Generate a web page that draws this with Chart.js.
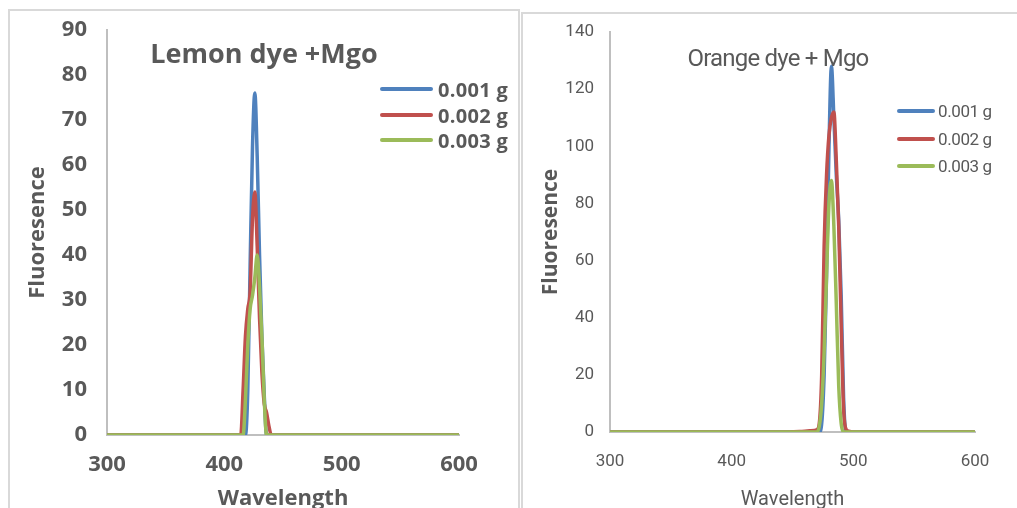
<!DOCTYPE html>
<html>
<head>
<meta charset="utf-8">
<script src="https://cdn.jsdelivr.net/npm/chart.js"></script>
<style>
  html, body { margin: 0; padding: 0; background: #fff; overflow: hidden; width: 1017px; height: 508px; }
  .frame { position: absolute; background: #fff; box-sizing: border-box; }
  #leftFrame { left: 8px; top: 9px; width: 512px; height: 520px; border: 2px solid #d9d9d9; }
  #rightFrame { left: 521px; top: 12px; width: 520px; height: 520px; border: 2px solid #d9d9d9; }
  canvas { position: absolute; left: 0; top: 0; }
  .title { position: absolute; color: #595959; white-space: nowrap; transform: translate(-50%, -50%); }
  #leftTitle { left: 254px; top: 41px; font: bold 27px "Open Sans", sans-serif; }
  #rightTitle { left: 255px; top: 44px; font: 24px Roboto, sans-serif; letter-spacing: -0.8px; }
  .legend { position: absolute; color: #595959; white-space: nowrap; }
  .legend .row { position: absolute; left: 0; height: 0; }
  .legend .swatch { position: absolute; left: 0; top: -2px; height: 4px; border-radius: 2px; }
  .legend .label { position: absolute; top: 0; transform: translateY(-50%); }
  #leftLegend { left: 370px; top: 78px; font: bold 20px "Open Sans", sans-serif; letter-spacing: 0.3px; }
  #rightLegend { left: 374px; top: 97px; font: 17px Roboto, sans-serif; letter-spacing: -0.4px; }
</style>
</head>
<body>
<div class="frame" id="leftFrame">
  <canvas id="lemon-chart" width="508" height="501"></canvas>
  <div class="title" id="leftTitle">Lemon dye +Mgo</div>
  <div class="legend" id="leftLegend"></div>
</div>
<div class="frame" id="rightFrame">
  <canvas id="orange-chart" width="494" height="498"></canvas>
  <div class="title" id="rightTitle">Orange dye + Mgo</div>
  <div class="legend" id="rightLegend"></div>
</div>
<script>
const seriesLabels = ['0.001 g', '0.002 g', '0.003 g'];
const seriesColors = ['#4F81BD', '#C0504D', '#9BBB59'];

// Lemon dye + MgO
const lemonWavelengths = [300, 410, 414, 416, 418, 420, 422, 424, 426, 428, 430, 432, 434, 436, 438, 440, 444, 600];
const lemonBlue  = [0, 0, 0, 0, 0, 10, 38, 64, 76, 62, 40, 22, 9, 0, 0, 0, 0, 0];
const lemonRed   = [0, 0, 0, 10, 22, 28, 32, 48, 54, 42, 26, 14, 7, 5, 2, 0, 0, 0];
const lemonGreen = [0, 0, 0, 0, 8, 20, 28, 31, 35, 40, 33, 22, 8, 0, 0, 0, 0, 0];
const lemonTicksY = [0, 10, 20, 30, 40, 50, 60, 70, 80, 90];

// Orange dye + MgO
const orangeWavelengths = [300, 440, 456, 464, 468, 470, 472, 474, 476, 478, 480, 482, 484, 486, 488, 490, 492, 494, 496, 500, 520, 600];
const orangeBlue  = [0, 0, 0, 0, 0, 0, 0, 3, 20, 55, 100, 128, 110, 90, 74, 48, 12, 0, 0, 0, 0, 0];
const orangeRed   = [0, 0, 0.2, 0.4, 0.5, 0.8, 3, 20, 65, 90, 104, 110, 112, 95, 72, 38, 8, 1, 0.3, 0, 0, 0];
const orangeGreen = [0, 0, 0, 0, 0, 0, 2, 10, 28, 55, 80, 88, 72, 45, 16, 3, 0, 0, 0, 0, 0, 0];
const orangeTicksY = [0, 20, 40, 60, 80, 100, 120, 140];

const xTicks = [300, 400, 500, 600];
const textGray = '#595959';
const axisGray = '#bfbfbf';
const narrowFont = 'Roboto, sans-serif';

function makeDatasets(xs, series) {
  return series.map((ys, i) => ({
    label: seriesLabels[i],
    data: xs.map((x, j) => ({ x: x, y: ys[j] })),
    borderColor: seriesColors[i],
    backgroundColor: seriesColors[i],
    borderWidth: 3.5,
    pointRadius: 0,
    cubicInterpolationMode: 'monotone',
    borderCapStyle: 'round',
    borderJoinStyle: 'round',
    order: 3 - i
  }));
}

function makeLegend(id, lineWidth, gap, rowStep) {
  const box = document.getElementById(id);
  seriesLabels.forEach((lab, i) => {
    const row = document.createElement('div');
    row.className = 'row';
    row.style.top = (i * rowStep) + 'px';
    const sw = document.createElement('div');
    sw.className = 'swatch';
    sw.style.width = lineWidth + 'px';
    sw.style.background = seriesColors[i];
    const tx = document.createElement('div');
    tx.className = 'label';
    tx.style.left = (lineWidth + gap) + 'px';
    tx.textContent = lab;
    row.appendChild(sw);
    row.appendChild(tx);
    box.appendChild(row);
  });
}

// y axis: fixed width, and no extra top/bottom padding from the labels
function fitY(width) {
  return s => { s.width = width; s.paddingTop = 0; s.paddingBottom = 0; };
}

const lemonChart = new Chart(document.getElementById('lemon-chart'), {
  type: 'line',
  data: { datasets: makeDatasets(lemonWavelengths, [lemonBlue, lemonRed, lemonGreen]) },
  options: {
    responsive: false,
    animation: false,
    layout: { padding: { top: 19, right: 59, bottom: 0, left: 0 } },
    plugins: { legend: { display: false }, tooltip: { enabled: false } },
    scales: {
      x: {
        type: 'linear', min: 300, max: 600,
        afterBuildTicks: s => { s.ticks = xTicks.map(v => ({ value: v })); },
        afterFit: s => { s.height = 77; },
        grid: { display: false, drawTicks: false },
        border: { display: true, color: axisGray, width: 2 },
        ticks: { color: textGray, padding: 17, font: { family: 'Open Sans', size: 22, weight: 'bold' } },
        title: { display: true, text: 'Wavelength', color: textGray, padding: 0,
                 font: { family: 'Open Sans', size: 22, weight: 'bold' } }
      },
      y: {
        min: 0, max: 90,
        afterBuildTicks: s => { s.ticks = lemonTicksY.map(v => ({ value: v })); },
        afterFit: fitY(97),
        grid: { display: false, drawTicks: false },
        border: { display: true, color: axisGray, width: 2 },
        ticks: { color: textGray, padding: 20, font: { family: 'Open Sans', size: 22, weight: 'bold' } },
        title: { display: true, text: 'Fluoresence', color: textGray, padding: { top: 15, bottom: 0 },
                 font: { family: 'Open Sans', size: 22, weight: 'bold' } }
      }
    }
  }
});

const orangeChart = new Chart(document.getElementById('orange-chart'), {
  type: 'line',
  data: { datasets: makeDatasets(orangeWavelengths, [orangeBlue, orangeRed, orangeGreen]) },
  options: {
    responsive: false,
    animation: false,
    layout: { padding: { top: 18, right: 42, bottom: 0, left: 0 } },
    plugins: { legend: { display: false }, tooltip: { enabled: false } },
    scales: {
      x: {
        type: 'linear', min: 300, max: 600,
        afterBuildTicks: s => { s.ticks = xTicks.map(v => ({ value: v })); },
        afterFit: s => { s.height = 80; },
        grid: { display: false, drawTicks: false },
        border: { display: true, color: axisGray, width: 2 },
        ticks: { color: textGray, padding: 20, font: { family: narrowFont, size: 17 } },
        title: { display: true, text: 'Wavelength', color: textGray, padding: 0,
                 font: { family: narrowFont, size: 20 } }
      },
      y: {
        min: 0, max: 140,
        afterBuildTicks: s => { s.ticks = orangeTicksY.map(v => ({ value: v })); },
        afterFit: fitY(87),
        grid: { display: false, drawTicks: false },
        border: { display: true, color: axisGray, width: 2 },
        ticks: { color: textGray, padding: 16, font: { family: narrowFont, size: 17 } },
        title: { display: true, text: 'Fluoresence', color: textGray, padding: { top: 15, bottom: 0 },
                 font: { family: 'Open Sans', size: 21, weight: 'bold' } }
      }
    }
  }
});

makeLegend('leftLegend', 53, 5, 25.5);
makeLegend('rightLegend', 38, 3, 27.5);
</script>
</body>
</html>
